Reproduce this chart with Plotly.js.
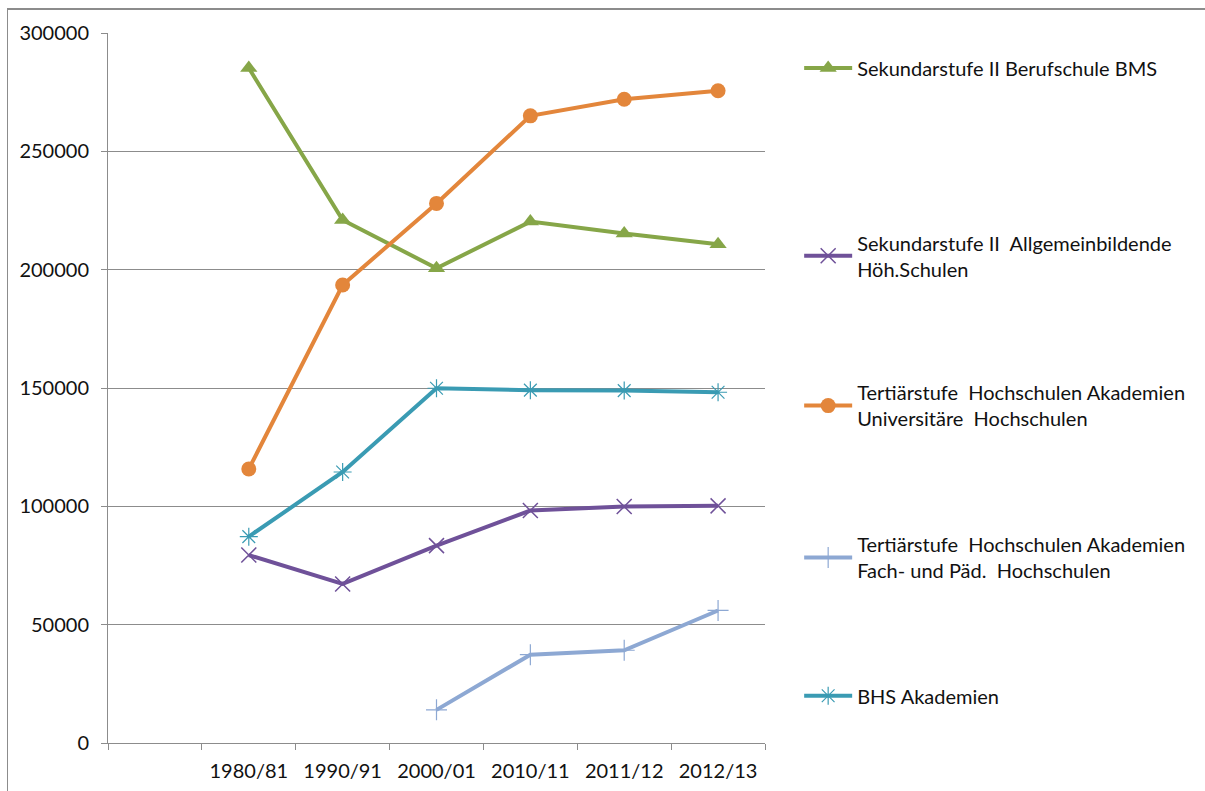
<!DOCTYPE html>
<html>
<head>
<meta charset="utf-8">
<script src="https://cdn.plot.ly/plotly-3.0.1.min.js"></script>
<style>
  html, body { margin: 0; padding: 0; background: #fff; overflow: hidden; width: 1205px; height: 791px; }
  #chart { width: 1205px; height: 791px; position: absolute; left: 0; top: 0; }
  #frame { position: absolute; left: 7px; top: 8px; width: 1220px; height: 810px; border-left: 1px solid #8c8c8c; border-top: 2px solid #8c8c8c; pointer-events: none; }
</style>
</head>
<body>
<div id="chart"></div>
<div id="frame"></div>
<script>
const categories = [" ", "1980/81", "1990/91", "2000/01", "2010/11", "2011/12", "2012/13"];
const years = ["1980/81", "1990/91", "2000/01", "2010/11", "2011/12", "2012/13"];

const berufschuleBMS   = [285200, 221000, 200600, 220300, 215300, 210700];
const allgemeinbildend = [79400, 67200, 83400, 98200, 99900, 100200];
const universitaere    = [115800, 193500, 228000, 265000, 272000, 275600];
const fachPaed         = [null, null, 14000, 37300, 39200, 56000];
const bhsAkademien     = [87200, 114500, 149900, 149100, 148900, 148200];

const names = [
  "Sekundarstufe II Berufschule BMS",
  "Sekundarstufe II  Allgemeinbildende<br>Höh.Schulen",
  "Tertiärstufe  Hochschulen Akademien<br>Universitäre  Hochschulen",
  "Tertiärstufe  Hochschulen Akademien<br>Fach- und Päd.  Hochschulen",
  "BHS Akademien"
];
const yTicks = [0, 50000, 100000, 150000, 200000, 250000, 300000];

const FONT = "Lato, 'Open Sans', sans-serif";
const FS = 20;

function tr(y, name, color, symbol, msize, mline, legendId, filled) {
  return {
    type: "scatter", mode: "lines+markers",
    x: years, y: y, name: name,
    line: { color: color, width: 4 },
    marker: filled
      ? { symbol: symbol, size: msize, color: color }
      : { symbol: symbol, size: msize, color: color, line: { color: color, width: mline } },
    legend: legendId,
    connectgaps: false
  };
}

const traces = [
  tr(berufschuleBMS, names[0], "#86a648", "triangle-up", 15, 0, "legend", true),
  tr(allgemeinbildend, names[1], "#6f5199", "x-thin-open", 15, 1.5, "legend2", false),
  tr(universitaere, names[2], "#e3863b", "circle", 15, 0, "legend3", true),
  tr(fachPaed, names[3], "#8da8d3", "cross-thin-open", 15, 1.2, "legend4", false),
  tr(bhsAkademien, names[4], "#3a9bb3", "asterisk-open", 15, 1.2, "legend5", false)
];

function leg(y) {
  return {
    x: 1.052, y: y, xanchor: "left", yanchor: "top",
    bgcolor: "rgba(0,0,0,0)", borderwidth: 0,
    font: { family: FONT, size: FS, color: "#111" },
    itemwidth: 48
  };
}

const layout = {
  width: 1205, height: 791,
  margin: { l: 108, r: 440, t: 33, b: 48 },
  paper_bgcolor: "rgba(0,0,0,0)", plot_bgcolor: "rgba(0,0,0,0)",
  font: { family: FONT, size: FS, color: "#111" },
  xaxis: {
    type: "category",
    categoryorder: "array", categoryarray: categories,
    range: [-0.5, 6.5],
    tickson: "boundaries",
    ticks: "outside", ticklen: 6, tickcolor: "#8c8c8c", tickwidth: 1,
    showline: true, linecolor: "#8c8c8c", linewidth: 1,
    showgrid: false, zeroline: false,
    tickfont: { family: FONT, size: FS, color: "#111" },
    ticklabelstandoff: 10,
    fixedrange: true
  },
  yaxis: {
    range: [0, 300000],
    tickvals: yTicks, ticktext: yTicks.map(String),
    ticks: "outside", ticklen: 6, tickcolor: "#8c8c8c",
    showline: true, linecolor: "#8c8c8c", linewidth: 1,
    showgrid: true, gridcolor: "#8c8c8c", gridwidth: 1,
    zeroline: false,
    tickfont: { family: FONT, size: FS, color: "#111" },
    ticklabelstandoff: 8,
    fixedrange: true
  },
  showlegend: true,
  legend: leg(0.978),
  legend2: leg(0.732),
  legend3: leg(0.521),
  legend4: leg(0.307),
  legend5: leg(0.094)
};

Plotly.newPlot("chart", traces, layout, { displayModeBar: false, staticPlot: true });
</script>
</body>
</html>
